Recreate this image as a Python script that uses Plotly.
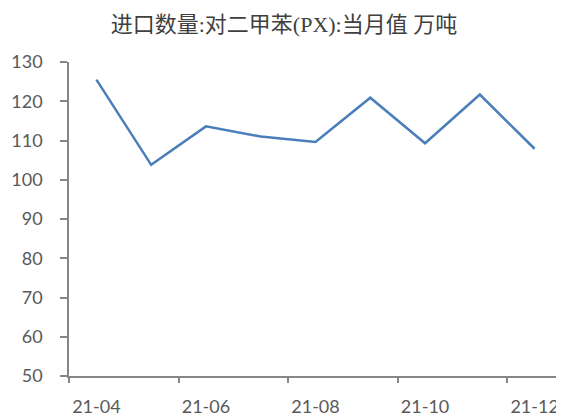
import plotly.graph_objects as go

months = ["21-04", "21-05", "21-06", "21-07", "21-08", "21-09", "21-10", "21-11", "21-12"]
values = [125.5, 103.8, 113.6, 111.0, 109.6, 120.9, 109.3, 121.7, 107.9]
label_months = ["21-04", "21-06", "21-08", "21-10", "21-12"]
y_ticks = [50, 60, 70, 80, 90, 100, 110, 120, 130]
title_text = "进口数量:对二甲苯(PX):当月值 万吨"

xpos = [i + 0.5 for i in range(len(months))]
label_pos = [months.index(m) + 0.5 for m in label_months]
boundary_pos = [months.index(m) for m in label_months]

axis_color = "#868686"
text_color = "#595959"
font_fam = "Lato, 'Open Sans', sans-serif"

# page body has an 8px margin, so the figure is sized to fit the window
W, H = 556, 408

fig = go.Figure()
fig.add_trace(go.Scatter(x=xpos, y=values, mode="lines",
                         line=dict(color="#4a7ebb", width=2.5),
                         hoverinfo="skip", showlegend=False))
# invisible trace to anchor boundary tick axis
fig.add_trace(go.Scatter(x=[0, len(months)], y=[y_ticks[0], y_ticks[0]], xaxis="x2",
                         mode="lines", line=dict(width=0), opacity=0,
                         hoverinfo="skip", showlegend=False))

fig.update_layout(
    width=W, height=H,
    margin=dict(l=61, r=2, t=54, b=40),
    paper_bgcolor="white", plot_bgcolor="white",
    title=dict(text=title_text, x=276 / W, xanchor="center", y=1 - 16 / H,
               yanchor="middle", yref="container",
               font=dict(family="'Liberation Serif', 'Noto Sans CJK SC', serif",
                         size=22, color="#404040")),
    xaxis=dict(range=[0, len(months)], tickvals=label_pos, ticktext=label_months,
               ticks="", showline=True, linecolor=axis_color, linewidth=1.5,
               showgrid=False, zeroline=False, ticklabelstandoff=14, automargin=False,
               tickfont=dict(family=font_fam, size=18, color=text_color)),
    xaxis2=dict(range=[0, len(months)], overlaying="x", anchor="y",
                tickvals=boundary_pos, ticks="outside", ticklen=6, tickwidth=1.5,
                tickcolor=axis_color, showticklabels=False, showline=False,
                showgrid=False, zeroline=False, side="bottom", automargin=False),
    yaxis=dict(range=[50, 130], tickvals=y_ticks, ticks="outside", ticklen=7,
               tickwidth=1.5, tickcolor=axis_color, showline=True,
               linecolor=axis_color, linewidth=1.5, showgrid=False,
               zeroline=False, ticklabelstandoff=14, automargin=False,
               tickfont=dict(family=font_fam, size=18, color=text_color)),
)

fig.write_html("out.html")
